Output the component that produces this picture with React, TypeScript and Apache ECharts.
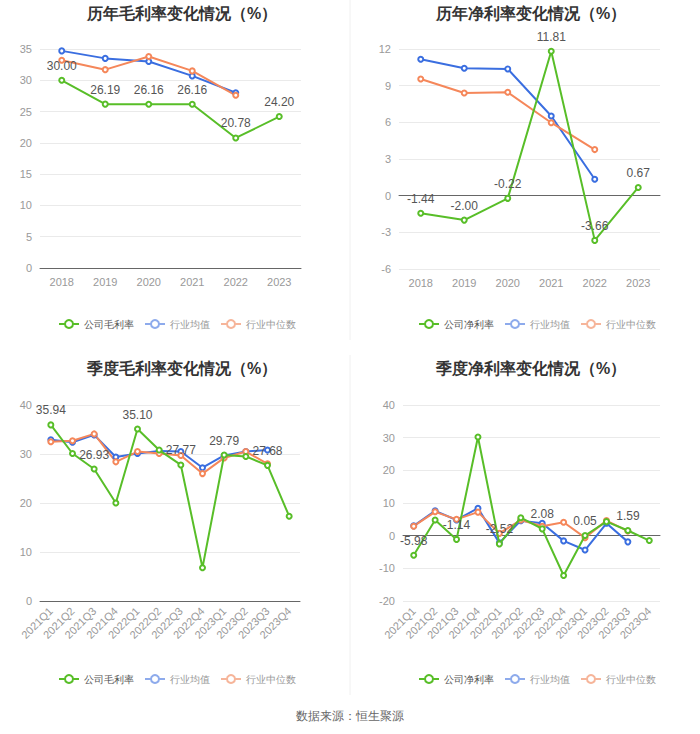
import React, { useEffect, useRef } from "react";
import * as echarts from "echarts";

const years = ["2018", "2019", "2020", "2021", "2022", "2023"];
const quarters = ["2021Q1", "2021Q2", "2021Q3", "2021Q4", "2022Q1", "2022Q2", "2022Q3", "2022Q4", "2023Q1", "2023Q2", "2023Q3", "2023Q4"];

const annualGrossCompany = [30.0, 26.19, 26.16, 26.16, 20.78, 24.2];
const annualGrossMean = [34.7, 33.5, 33.0, 30.7, 28.0];
const annualGrossMedian = [33.2, 31.7, 33.8, 31.5, 27.6];

const annualNetCompany = [-1.44, -2.0, -0.22, 11.81, -3.66, 0.67];
const annualNetMean = [11.16, 10.42, 10.37, 6.52, 1.34];
const annualNetMedian = [9.55, 8.4, 8.46, 5.97, 3.77];

const quarterGrossCompany = [35.94, 30.1, 26.93, 20.0, 35.1, 30.8, 27.77, 6.8, 29.79, 29.5, 27.68, 17.3];
const quarterGrossMean = [32.9, 32.4, 33.9, 29.4, 30.1, 30.6, 30.5, 27.2, 29.7, 30.5, 30.8];
const quarterGrossMedian = [32.5, 32.7, 34.1, 28.4, 30.5, 30.1, 29.7, 26.0, 29.2, 30.5, 28.0];

const quarterNetCompany = [-5.98, 4.8, -1.14, 30.2, -2.52, 5.5, 2.08, -12.2, 0.05, 4.3, 1.59, -1.5];
const quarterNetMean = [3.0, 7.6, 4.8, 8.4, -2.2, 4.6, 3.8, -1.6, -4.4, 3.8, -1.9];
const quarterNetMedian = [2.9, 7.3, 5.0, 7.2, 0.7, 4.8, 2.9, 4.1, -0.6, 4.6, 1.4];

const titles = ["历年毛利率变化情况（%）", "历年净利率变化情况（%）", "季度毛利率变化情况（%）", "季度净利率变化情况（%）"];
const companyNames = ["公司毛利率", "公司净利率", "公司毛利率", "公司净利率"];
const meanName = "行业均值";
const medianName = "行业中位数";
const sourceText = "数据来源：恒生聚源";

const GREEN = "#58be28";
const BLUE = "#3a6ee0";
const ORANGE = "#f5875a";

export default function App() {
  const ref = useRef<HTMLDivElement>(null);
  useEffect(() => {
    const chart = echarts.init(ref.current!, undefined, { renderer: "svg" });

    const grids = [
      { left: 40, top: 49, width: 261, height: 219 },
      { left: 399, top: 49, width: 261, height: 220 },
      { left: 40, top: 405, width: 260, height: 196 },
      { left: 403, top: 405, width: 257, height: 196 },
    ];
    const yRanges = [
      { min: 0, max: 35, interval: 5 },
      { min: -6, max: 12, interval: 3 },
      { min: 0, max: 40, interval: 10 },
      { min: -20, max: 40, interval: 10 },
    ];
    const cats = [years, years, quarters, quarters];
    const companies = [annualGrossCompany, annualNetCompany, quarterGrossCompany, quarterNetCompany];
    const means = [annualGrossMean, annualNetMean, quarterGrossMean, quarterNetMean];
    const medians = [annualGrossMedian, annualNetMedian, quarterGrossMedian, quarterNetMedian];
    const titleCenters = [
      { x: 177, y: 0 },
      { x: 526, y: 0 },
      { x: 177, y: 355 },
      { x: 526, y: 355 },
    ];
    const legendPos = [
      { left: 53, top: 314 },
      { left: 413, top: 314 },
      { left: 53, top: 669 },
      { left: 413, top: 669 },
    ];

    const series: any[] = [];
    for (let i = 0; i < 4; i++) {
      const quarterly = i >= 2;
      series.push({
        name: companyNames[i],
        type: "line",
        xAxisIndex: i,
        yAxisIndex: i,
        symbol: "emptyCircle",
        symbolSize: 5,
        z: 3,
        lineStyle: { width: 2, color: GREEN },
        itemStyle: { color: GREEN },
        data: companies[i].map((v, k) => ({
          value: v,
          label: { show: !quarterly || k % 2 === 0 },
        })),
        label: {
          position: "top",
          color: "#555",
          fontSize: 12,
          formatter: (p: any) => Number(p.value).toFixed(2),
        },
      });
      series.push({
        name: meanName,
        type: "line",
        xAxisIndex: i,
        yAxisIndex: i,
        symbol: "emptyCircle",
        symbolSize: 5,
        z: 2,
        lineStyle: { width: 2, color: BLUE },
        itemStyle: { color: BLUE },
        data: means[i],
      });
      series.push({
        name: medianName,
        type: "line",
        xAxisIndex: i,
        yAxisIndex: i,
        symbol: "emptyCircle",
        symbolSize: 5,
        z: 2,
        lineStyle: { width: 2, color: ORANGE },
        itemStyle: { color: ORANGE },
        data: medians[i],
      });
    }

    chart.setOption({
      animation: false,
      backgroundColor: "#fff",
      title: titles.map((t, i) => ({
        text: t,
        left: titleCenters[i].x,
        top: titleCenters[i].y,
        textAlign: "center",
        textStyle: { fontSize: 16, fontWeight: "bold", color: "#333" },
      })),
      legend: [0, 1, 2, 3].map((i) => ({
        left: legendPos[i].left,
        top: legendPos[i].top,
        itemWidth: 20,
        itemHeight: 10,
        itemGap: 10,
        selectedMode: false,
        textStyle: { fontSize: 10, color: "#999" },
        data: [
          { name: companyNames[i], textStyle: { color: "#555" } },
          { name: meanName, itemStyle: { color: "#8eabec" }, lineStyle: { color: "#8eabec" } },
          { name: medianName, itemStyle: { color: "#f6b59a" }, lineStyle: { color: "#f6b59a" } },
        ],
      })),
      grid: grids,
      xAxis: [0, 1, 2, 3].map((i) => ({
        type: "category",
        gridIndex: i,
        data: cats[i],
        boundaryGap: true,
        axisLine: { lineStyle: { color: "#666" } },
        axisTick: { alignWithLabel: true, lineStyle: { color: "#666" } },
        axisLabel: {
          color: "#999",
          fontSize: 11,
          rotate: i >= 2 ? 45 : 0,
          interval: 0,
          margin: 8,
        },
      })),
      yAxis: [0, 1, 2, 3].map((i) => ({
        type: "value",
        gridIndex: i,
        min: yRanges[i].min,
        max: yRanges[i].max,
        interval: yRanges[i].interval,
        axisLine: { show: false },
        axisTick: { show: false },
        axisLabel: { color: "#999", fontSize: 11 },
        splitLine: { lineStyle: { color: "#eaeaea" } },
      })),
      series,
      graphic: [
        {
          type: "line",
          shape: { x1: 350, y1: 0, x2: 350, y2: 340 },
          style: { stroke: "#f0f0f0", lineWidth: 1 },
        },
        {
          type: "line",
          shape: { x1: 350, y1: 355, x2: 350, y2: 695 },
          style: { stroke: "#f0f0f0", lineWidth: 1 },
        },
        {
          type: "text",
          left: "center",
          top: 710,
          style: { text: sourceText, fill: "#666", fontSize: 12 },
        },
      ],
    });
    return () => chart.dispose();
  }, []);

  return (
    <div style={{ position: "absolute", left: 0, top: 0, width: 700, height: 734, background: "#fff" }}>
      <div ref={ref} style={{ width: 700, height: 734 }} />
    </div>
  );
}
